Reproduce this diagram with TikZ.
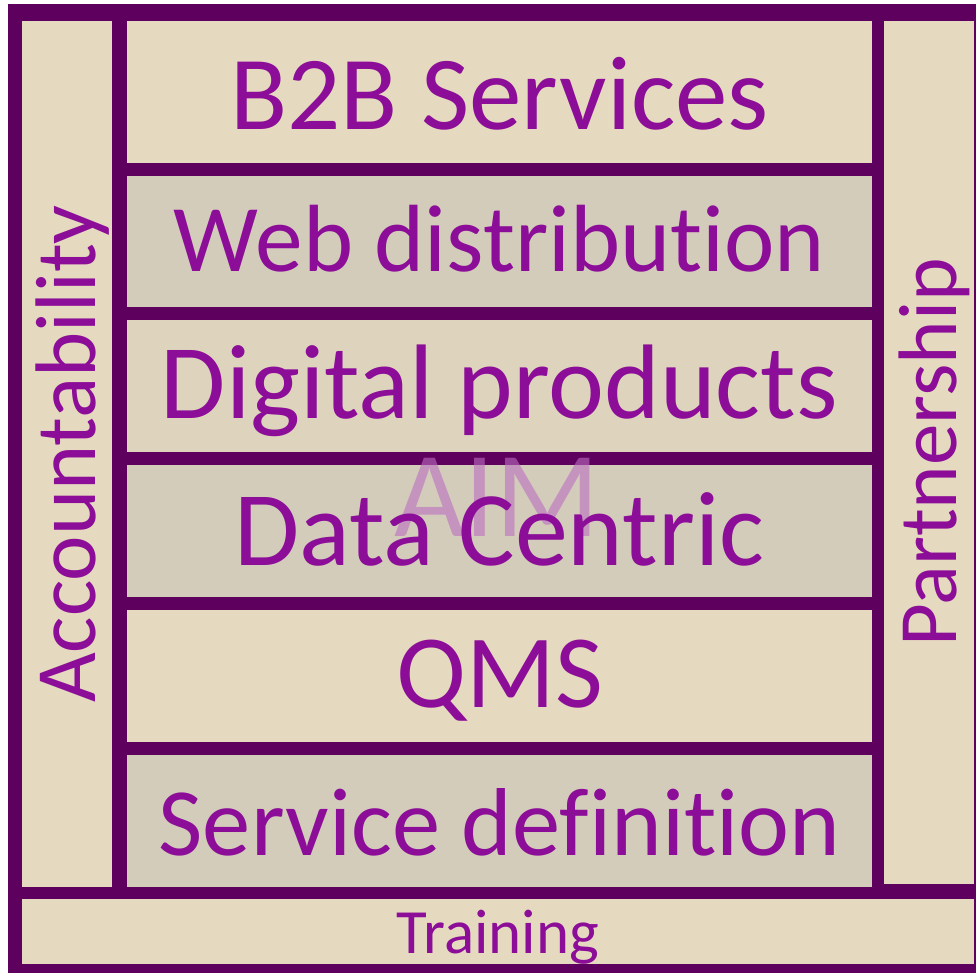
\documentclass[tikz,border=0pt]{standalone}
\usepackage{fontspec}
\setmainfont{Carlito}[Ligatures=NoCommon]
\usetikzlibrary{calc}
\definecolor{frame}{RGB}{94,0,94}
\definecolor{paper}{RGB}{229,217,191}
\definecolor{grain}{RGB}{212,204,187}
\definecolor{ink}{RGB}{140,14,152}
\definecolor{aimcol}{RGB}{186,110,192}
\tikzstyle{band} = [rectangle, inner sep=0pt, outer sep=0pt, anchor=north west, minimum width=745pt]
\tikzstyle{side} = [rectangle, fill=paper, inner sep=0pt, outer sep=0pt, anchor=north west, minimum width=90pt]
\tikzstyle{word} = [text=ink, inner sep=0pt, anchor=base]
\newcommand{\pts}[1]{\fontsize{#1pt}{#1pt}\selectfont}

\begin{document}
\begin{tikzpicture}[x=1pt, y=-1pt]

            \useasboundingbox (0,0) rectangle (976,973);

            %% frame
            \fill[frame] (8,4) rectangle (976,973);

            \node (acc) [side, minimum height=866pt] at (22,21) {};
            \node (part) [side, minimum height=863pt] at (884,21) {};
            \node (train) [side, minimum width=952pt, minimum height=65pt] at (22,899) {};

            \node (b2b) [band, fill=paper, minimum height=142pt] at (127,21) {};
            \node (web) [band, fill=grain, minimum height=131pt] at (127,176) {};
            \node (dig) [band, fill=paper!60!grain, minimum height=132pt] at (127,320) {};
            \node (data) [band, fill=grain, minimum height=132pt] at (127,465) {};
            \node (qms) [band, fill=paper, minimum height=132pt] at (127,610) {};
            \node (serv) [band, fill=grain, minimum height=132pt] at (127,755) {};

            %% watermark
            \node (aim) [text=aimcol, text opacity=0.6, inner sep=0pt, font=\pts{122}] at (497,497) {AIM};

            %% labels
            \node [word, font=\pts{105}] at ($(b2b.south)+(0,-33)$) {B2B Services};
            \node [word, font=\pts{95.5}] at ($(web.south)+(0,-35)$) {Web distribution};
            \node [word, font=\pts{106}] at ($(dig.south)+(0,-34)$) {Digital products};
            \node [word, font=\pts{106}] at ($(data.south)+(0,-32)$) {Data Centric};
            \node [word, font=\pts{104}] at ($(qms.south)+(0,-35)$) {QMS};
            \node [word, font=\pts{96.5}] at ($(serv.south)+(0,-32)$) {Service definition};

            \node [text=ink, inner sep=0pt, rotate=90, font=\pts{86}] at ($(acc.center)+(6,0)$) {Accountability};
            \node [text=ink, inner sep=0pt, rotate=90, font=\pts{83}] at ($(part.center)+(5,0)$) {Partnership};
            \node [word, font=\pts{63}] at ($(train.south)+(0,-11)$) {Training};

        \end{tikzpicture}
\end{document}
